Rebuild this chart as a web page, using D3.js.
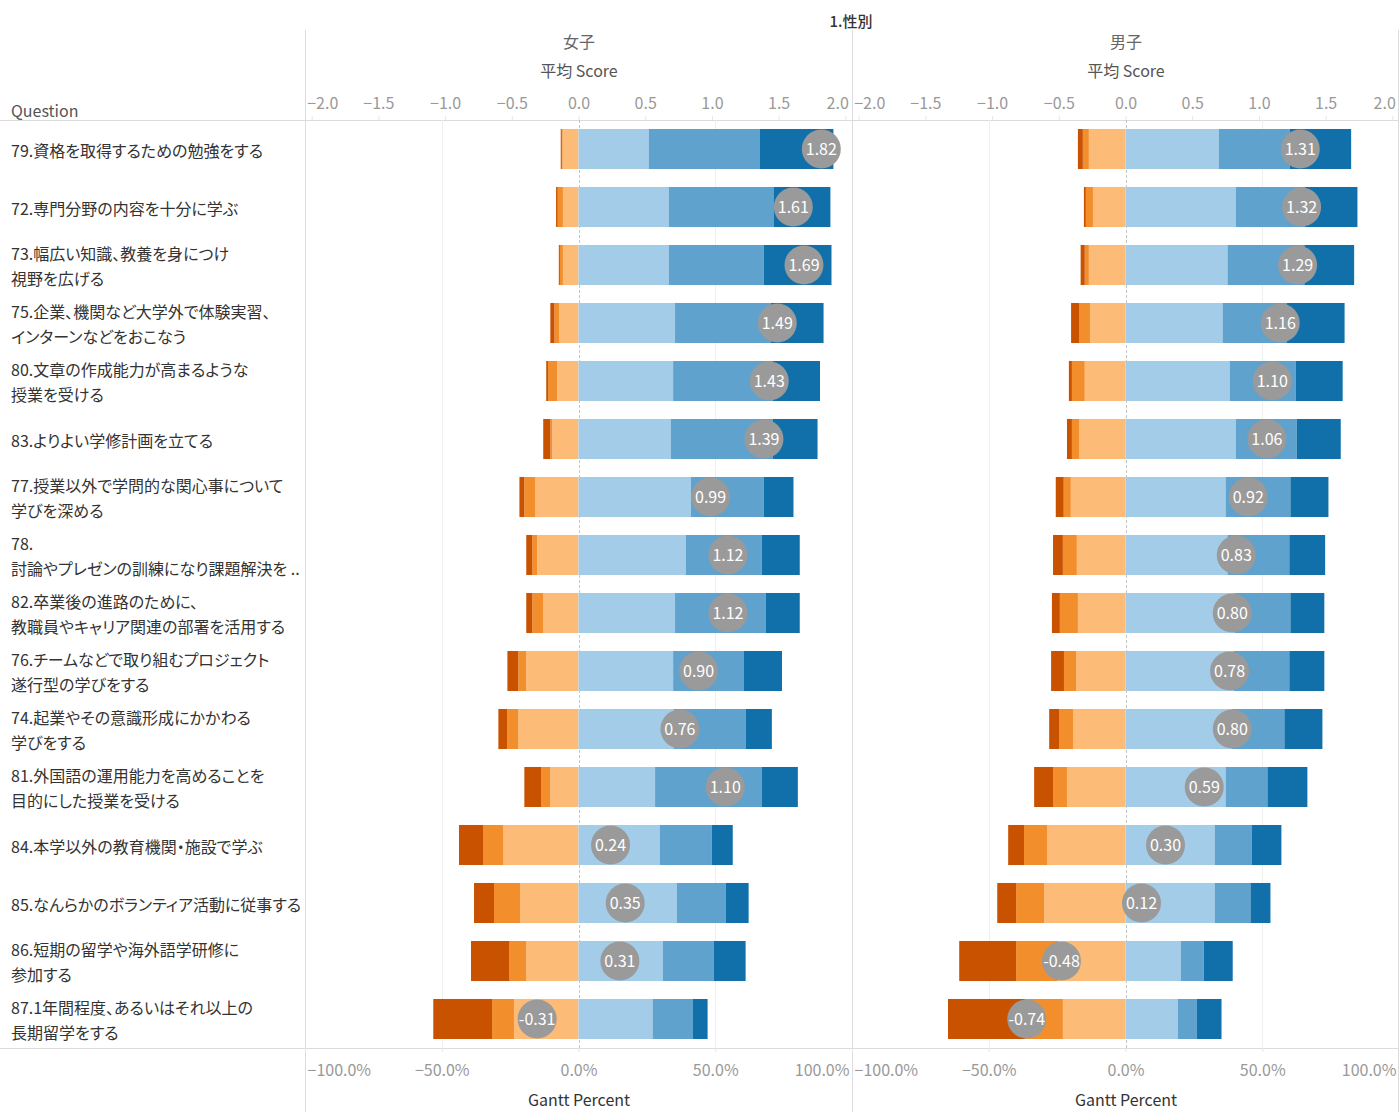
<!DOCTYPE html>
<html>
<head>
  <meta charset="utf-8">
  <script src="https://d3js.org/d3.v7.min.js"></script>
</head>
<style>
  body { margin: 0; background: #fff; }
  text { font-family: "Noto Sans CJK JP", "Noto Sans", sans-serif; }
  .rowlabel { font-feature-settings: "palt"; }
</style>
<body>
  <svg width="1399" height="1112"></svg>

  <script>
    // Questions (top to bottom), lines split where the label wraps
    const questions = [
      ['79.資格を取得するための勉強をする'],
      ['72.専門分野の内容を十分に学ぶ'],
      ['73.幅広い知識、教養を身につけ', '視野を広げる'],
      ['75.企業、機関など大学外で体験実習、', 'インターンなどをおこなう'],
      ['80.文章の作成能力が高まるような', '授業を受ける'],
      ['83.よりよい学修計画を立てる'],
      ['77.授業以外で学問的な関心事について', '学びを深める'],
      ['78.', '討論やプレゼンの訓練になり課題解決を ..'],
      ['82.卒業後の進路のために、', '教職員やキャリア関連の部署を活用する'],
      ['76.チームなどで取り組むプロジェクト', '遂行型の学びをする'],
      ['74.起業やその意識形成にかかわる', '学びをする'],
      ['81.外国語の運用能力を高めることを', '目的にした授業を受ける'],
      ['84.本学以外の教育機関・施設で学ぶ'],
      ['85.なんらかのボランティア活動に従事する'],
      ['86.短期の留学や海外語学研修に', '参加する'],
      ['87.1年間程度、あるいはそれ以上の', '長期留学をする']
    ];

    const genders = ['女子', '男子'];

    // percent of answers per level (neg3 = strongest negative ... pos3 = strongest positive)
    const femaleNeg3 = [0.4, 0.6, 0.4, 1.5, 0.7, 2.6, 1.8, 2.2, 2.2, 4.0, 3.3, 6.2, 8.8, 7.3, 13.9, 21.5];
    const femaleNeg2 = [0.3, 1.9, 1.1, 1.8, 3.3, 0.7, 4.0, 1.8, 4.0, 2.9, 4.0, 3.3, 7.3, 9.5, 6.2, 8.0];
    const femaleNeg1 = [5.8, 5.7, 5.7, 7.0, 7.8, 9.6, 15.8, 15.1, 12.9, 19.1, 22.0, 10.3, 27.6, 21.4, 19.2, 23.6];
    const femalePos1 = [25.7, 33.0, 33.0, 35.3, 34.6, 33.8, 41.1, 39.3, 35.3, 34.6, 34.9, 28.0, 29.7, 35.9, 30.8, 27.1];
    const femalePos2 = [40.5, 38.3, 34.7, 35.0, 36.5, 37.2, 26.6, 27.7, 33.2, 25.9, 26.3, 39.1, 19.0, 17.9, 18.6, 14.6];
    const femalePos3 = [27.0, 20.8, 24.8, 19.3, 17.2, 16.4, 10.9, 13.9, 12.4, 13.9, 9.5, 13.1, 7.7, 8.4, 11.7, 5.5];
    const femaleScore = [1.82, 1.61, 1.69, 1.49, 1.43, 1.39, 0.99, 1.12, 1.12, 0.90, 0.76, 1.10, 0.24, 0.35, 0.31, -0.31];

    const maleNeg3 = [1.8, 0.7, 1.5, 2.9, 1.1, 1.8, 2.9, 3.6, 2.9, 4.7, 3.6, 6.9, 5.8, 6.9, 20.8, 28.1];
    const maleNeg2 = [2.2, 2.6, 1.5, 4.0, 4.7, 2.6, 2.6, 5.1, 6.6, 4.4, 5.1, 5.1, 8.4, 10.2, 15.3, 13.9];
    const maleNeg1 = [13.4, 11.9, 13.4, 13.0, 14.9, 17.0, 20.0, 17.8, 17.4, 18.1, 19.2, 21.4, 28.7, 29.8, 24.7, 22.9];
    const malePos1 = [34.1, 40.3, 37.3, 35.5, 38.1, 40.3, 36.6, 37.3, 39.9, 39.5, 38.8, 36.6, 32.6, 32.6, 20.2, 19.1];
    const malePos2 = [25.9, 25.2, 28.1, 23.4, 24.1, 22.3, 23.7, 22.6, 20.4, 20.4, 19.3, 15.3, 13.5, 13.1, 8.4, 6.9];
    const malePos3 = [22.5, 19.3, 18.2, 21.2, 17.2, 16.1, 13.9, 13.1, 12.4, 12.8, 13.9, 14.6, 10.9, 7.3, 10.6, 9.1];
    const maleScore = [1.31, 1.32, 1.29, 1.16, 1.10, 1.06, 0.92, 0.83, 0.80, 0.78, 0.80, 0.59, 0.30, 0.12, -0.48, -0.74];

    const scoreTicks = [-2, -1.5, -1, -0.5, 0, 0.5, 1, 1.5, 2];
    const percentTicks = [-1, -0.5, 0, 0.5, 1];

    const levelColors = ['#c85200', '#f28e2b', '#fdbb78', '#a3cce9', '#5fa2ce', '#1170aa'];

    const series = [
      {neg: [femaleNeg3, femaleNeg2, femaleNeg1], pos: [femalePos1, femalePos2, femalePos3], score: femaleScore},
      {neg: [maleNeg3, maleNeg2, maleNeg1], pos: [malePos1, malePos2, malePos3], score: maleScore}
    ];

    const svg = d3.select('svg');
    const W = 1399;
    const plotTop = 120, plotBottom = 1048;
    const panels = [[305, 852], [852, 1399]];

    const y = d3.scaleBand()
      .domain(d3.range(questions.length))
      .range([plotTop, plotBottom])
      .paddingInner(0.31)
      .paddingOuter(0.155);

    // frame lines
    const frame = svg.append('g').attr('stroke', '#dcdcdc').attr('stroke-width', 1);
    frame.append('line').attr('x1', 0).attr('x2', W).attr('y1', plotTop + 0.5).attr('y2', plotTop + 0.5);
    frame.append('line').attr('x1', 0).attr('x2', W).attr('y1', plotBottom + 0.5).attr('y2', plotBottom + 0.5);
    [305, 852, 1398].forEach(x => {
      frame.append('line').attr('x1', x + 0.5).attr('x2', x + 0.5).attr('y1', 30).attr('y2', 1112);
    });

    // title
    svg.append('text')
      .attr('x', 851).attr('y', 27)
      .attr('text-anchor', 'middle')
      .style('font-size', '15px').style('fill', '#333').style('font-weight', 500)
      .text('1.性別');

    svg.append('text')
      .attr('x', 11).attr('y', 117)
      .style('font-size', '16px').style('fill', '#555')
      .text('Question');

    // row labels
    questions.forEach((lines, i) => {
      const cy = y(i) + y.bandwidth() / 2 + 2;
      const t = svg.append('text').attr('class', 'rowlabel').attr('x', 11)
        .style('font-size', '16px').style('fill', '#333');
      lines.forEach((ln, j) => {
        t.append('tspan')
          .attr('x', 11)
          .attr('y', cy + (j - (lines.length - 1) / 2) * 25)
          .attr('dy', '0.36em')
          .text(ln);
      });
    });

    genders.forEach((g, gi) => {
      const [x0, x1] = panels[gi];
      const cx = (x0 + x1) / 2 + 0.5;
      const xp = d3.scaleLinear().domain([-1, 1]).range([x0, x1]);
      const xs = d3.scaleLinear().domain([-2.05, 2.05]).range([x0, x1]);
      const s = series[gi];

      // header texts
      svg.append('text').attr('x', cx).attr('y', 48).attr('text-anchor', 'middle')
        .style('font-size', '16px').style('fill', '#666').text(g);
      svg.append('text').attr('x', cx).attr('y', 77).attr('text-anchor', 'middle')
        .style('font-size', '16px').style('fill', '#555').text('平均 Score');
      svg.append('text').attr('x', cx).attr('y', 1106).attr('text-anchor', 'middle')
        .style('font-size', '16px').style('fill', '#333').text('Gantt Percent');

      // gridlines
      const grid = svg.append('g');
      grid.selectAll('line.g').data([-0.5, 0.5]).enter().append('line')
        .attr('x1', d => Math.round(xp(d)) + 0.5).attr('x2', d => Math.round(xp(d)) + 0.5)
        .attr('y1', plotTop).attr('y2', plotBottom)
        .attr('stroke', '#efefef');
      grid.append('line')
        .attr('x1', Math.round(xp(0)) + 0.5).attr('x2', Math.round(xp(0)) + 0.5)
        .attr('y1', plotTop).attr('y2', plotBottom)
        .attr('stroke', '#c4c4c4').attr('stroke-dasharray', '3,2');

      // top score axis
      const ax = svg.append('g')
        .attr('transform', `translate(0,${plotTop})`)
        .call(d3.axisTop(xs).tickValues(scoreTicks).tickFormat(d3.format('.1f')).tickSize(4).tickPadding(7));
      ax.select('.domain').remove();
      ax.selectAll('line').attr('stroke', '#e6e6e6');
      ax.selectAll('text')
        .style('font-size', '16px').style('fill', '#999')
        .attr('text-anchor', (d, i) => i === 0 ? 'start' : (i === scoreTicks.length - 1 ? 'end' : 'middle'))
        .attr('dx', (d, i) => i === 0 ? -5 : (i === scoreTicks.length - 1 ? 3 : 0));

      // bottom percent axis
      const bx = svg.append('g')
        .attr('transform', `translate(0,${plotBottom})`)
        .call(d3.axisBottom(xp).tickValues(percentTicks).tickFormat(d3.format('.1%')).tickSize(4).tickPadding(13));
      bx.select('.domain').remove();
      bx.selectAll('line').attr('stroke', '#e6e6e6');
      bx.selectAll('text')
        .style('font-size', '16px').style('fill', '#999')
        .attr('text-anchor', (d, i) => i === 0 ? 'start' : (i === percentTicks.length - 1 ? 'end' : 'middle'))
        .attr('dx', (d, i) => i === 0 ? 2 : (i === percentTicks.length - 1 ? -3 : 0));

      // stacked segments
      const segs = [];
      questions.forEach((q, i) => {
        let acc = 0;
        for (let k = 2; k >= 0; k--) {
          const v = s.neg[k][i] / 100;
          segs.push({i, k, a: -acc - v, b: -acc});
          acc += v;
        }
        acc = 0;
        for (let k = 0; k < 3; k++) {
          const v = s.pos[k][i] / 100;
          segs.push({i, k: k + 3, a: acc, b: acc + v});
          acc += v;
        }
      });

      svg.append('g').selectAll('rect')
        .data(segs)
        .enter()
        .append('rect')
        .attr('x', d => xp(d.a))
        .attr('y', d => y(d.i))
        .attr('width', d => Math.max(0, xp(d.b) - xp(d.a)))
        .attr('height', y.bandwidth())
        .attr('fill', d => levelColors[d.k]);

      // score circles
      const c = svg.append('g').selectAll('g')
        .data(s.score)
        .enter()
        .append('g')
        .attr('transform', (d, i) => `translate(${xs(d)},${y(i) + y.bandwidth() / 2})`);
      c.append('circle').attr('r', 19.5).attr('fill', '#9a9a9a');
      c.append('text')
        .attr('text-anchor', 'middle').attr('dy', '0.36em')
        .style('font-size', '16px').style('fill', '#fff')
        .text(d => d.toFixed(2));
    });
  </script>
</body>
</html>
